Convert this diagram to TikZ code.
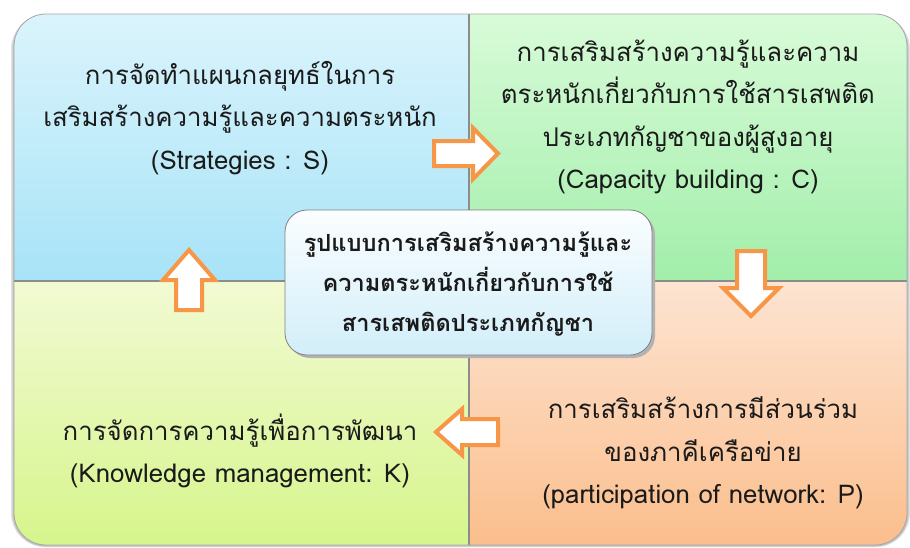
\documentclass[tikz,border=0pt]{standalone}
\usepackage{fontspec}
\newfontfamily\thai[Script=Thai]{Loma}
\definecolor{tlTop}{HTML}{DAF4FC}
\definecolor{tlBot}{HTML}{A8E3F7}
\definecolor{trTop}{HTML}{D8FBD8}
\definecolor{trBot}{HTML}{A2EEAA}
\definecolor{blTop}{HTML}{F2FAD3}
\definecolor{blBot}{HTML}{D6F58C}
\definecolor{brTop}{HTML}{FDE4D2}
\definecolor{brBot}{HTML}{FBBE8C}
\definecolor{cTop}{HTML}{FBFEFF}
\definecolor{cBot}{HTML}{D2EEF9}
\definecolor{arrOr}{HTML}{F79646}
\definecolor{txtc}{HTML}{1A1A1A}
\begin{document}
\begin{tikzpicture}[x=1pt,y=-1pt,
  txt/.style={font=\thai\fontsize{25.8}{42.5}\selectfont, align=center, text=txtc, inner sep=0pt},
  ctxt/.style={font=\thai\bfseries\fontsize{23.6}{40}\selectfont, align=center, text=txtc, inner sep=0pt},
  blockarrow/.style={draw=arrOr, fill=white, line width=4pt, line join=miter},
  divider/.style={draw=black!45, line width=1.3pt}]
\useasboundingbox (0,0) rectangle (910,547);
% outer shadow
\fill[black!12, rounded corners=34pt] (11,15) rectangle (910,547);
\fill[black!24, rounded corners=33pt] (12.5,16) rectangle (908.5,546.5);
% quadrants
\begin{scope}
\clip[rounded corners=32pt] (14,14) rectangle (907,545);
\shade[top color=tlTop, bottom color=tlBot] (14,14) rectangle (469,281);
\shade[top color=trTop, bottom color=trBot] (469,14) rectangle (907,281);
\shade[top color=blTop, bottom color=blBot] (14,281) rectangle (469,545);
\shade[top color=brTop, bottom color=brBot] (469,281) rectangle (907,545);
\draw[divider] (469,14) -- (469,545);
\draw[divider] (14,281) -- (907,281);
\end{scope}
\draw[black!35, line width=0.8pt, rounded corners=32pt] (14,14) rectangle (907,545);
% texts
\node[txt] (s) at (240,118) {การจัดทำแผนกลยุทธ์ในการ\\เสริมสร้างความรู้และความตระหนัก\\(Strategies : S)};
\node[txt] (c) at (688,117) {การเสริมสร้างความรู้และความ\\ตระหนักเกี่ยวกับการใช้สารเสพติด\\ประเภทกัญชาของผู้สูงอายุ\\(Capacity building : C)};
\node[txt] (k) at (240,451) {การจัดการความรู้เพื่อการพัฒนา\\(Knowledge management: K)};
\node[txt] (p) at (703,453) {การเสริมสร้างการมีส่วนร่วม\\ของภาคีเครือข่าย\\(participation of network: P)};
% center box
\fill[black!30, rounded corners=22pt] (288,213) rectangle (655,358);
\shade[top color=cTop, bottom color=cBot, draw=black!50, line width=0.8pt, rounded corners=22pt] (285,210) rectangle (652,355);
\node[ctxt] (m) at (468,284) {รูปแบบการเสริมสร้างความรู้และ\\ความตระหนักเกี่ยวกับการใช้\\สารเสพติดประเภทกัญชา};
% block arrows
\draw[blockarrow] (434,141) -- (473,141) -- (473,128) -- (498,153.5) -- (473,179) -- (473,166) -- (434,166) -- cycle;
\draw[blockarrow] (737,251) -- (765,251) -- (765,288) -- (779,288) -- (751,316) -- (723,288) -- (737,288) -- cycle;
\draw[blockarrow] (498,419) -- (462,419) -- (462,409) -- (436,432) -- (462,455) -- (462,445) -- (498,445) -- cycle;
\draw[blockarrow] (176,310) -- (202,310) -- (202,280) -- (215,280) -- (189,250) -- (163,280) -- (176,280) -- cycle;
\end{tikzpicture}
\end{document}
